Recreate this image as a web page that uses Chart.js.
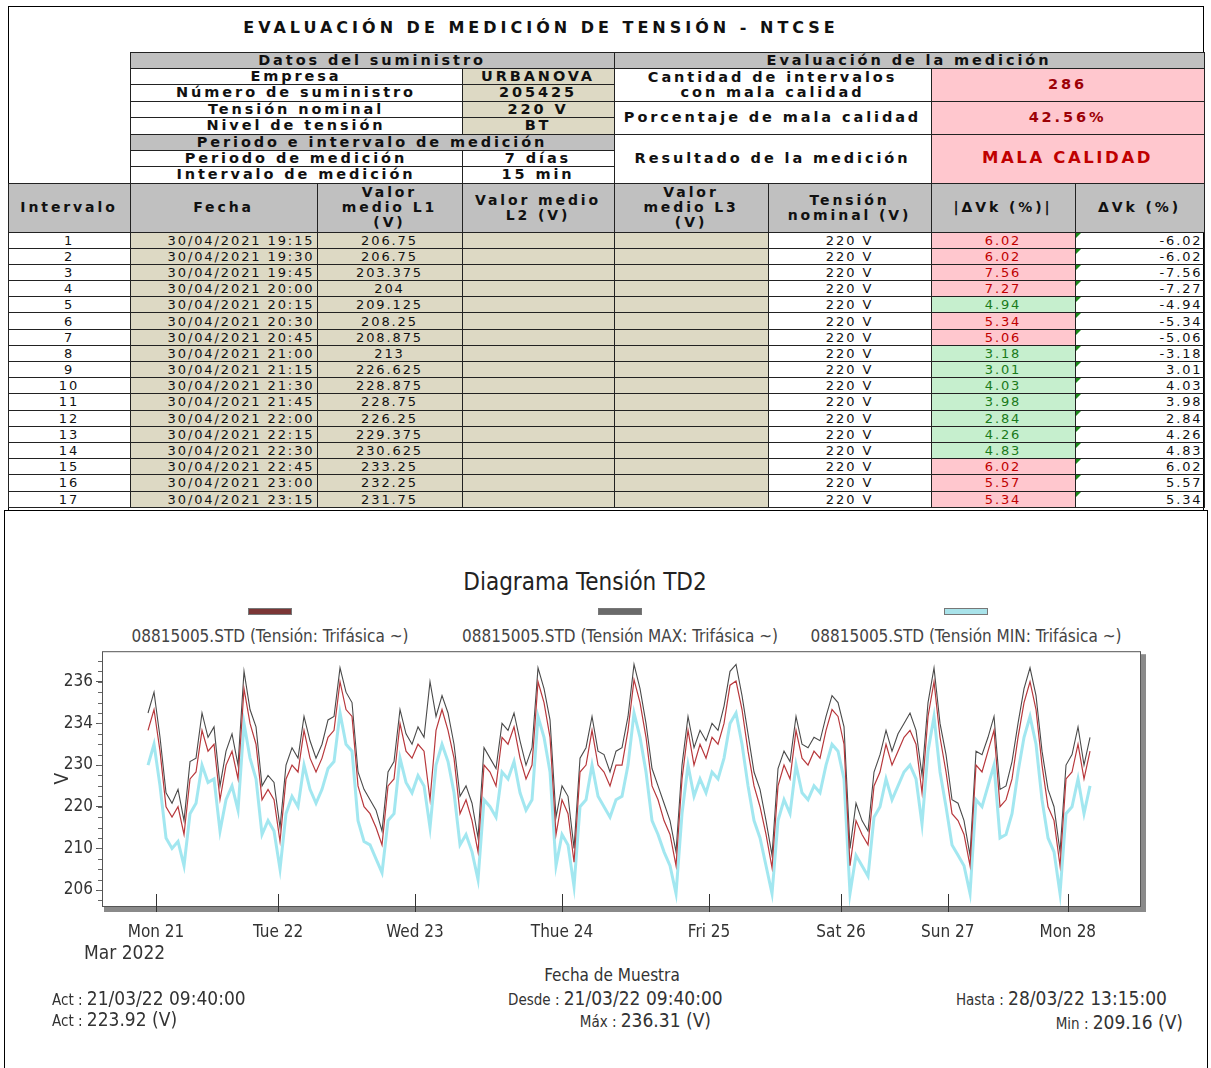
<!DOCTYPE html>
<html lang="es">
<head>
<meta charset="utf-8">
<title>Evaluación de medición de tensión - NTCSE</title>
<script src="https://cdn.jsdelivr.net/npm/chart.js@4.4.1/dist/chart.umd.min.js"></script>
<style>
body { margin:0; width:1211px; height:1068px; overflow:hidden; background:#fff; position:relative; font-family:"DejaVu Sans", sans-serif; color:#111; }
#hoja { position:absolute; left:8px; top:6px; width:1196px; height:506px; border:1.5px solid #000; box-sizing:border-box; }
#titulo { position:absolute; left:0; width:1064px; top:11px; text-align:center; font-weight:bold; font-size:16px; letter-spacing:4px; white-space:nowrap; }
#tabla { position:absolute; left:-1.5px; top:44.5px; border-collapse:collapse; table-layout:fixed; width:1196px; }
#tabla td { border:1.5px solid #222; padding:0; text-align:center; overflow:hidden; white-space:nowrap; line-height:1; }
.cab td { font-weight:bold; font-size:14.5px; letter-spacing:2.9px; }
.cab2 td { font-weight:bold; font-size:14px; letter-spacing:2.9px; line-height:15px !important; }
.gris { background:#c0c0c0; }
.beige { background:#ddd9c4; }
.rosa { background:#ffc7ce; color:#9c0006; }
.verde { background:#c6efce; color:#006100; }
#tabla td.vacio { border:none; }
.fila td { font-size:13px; letter-spacing:1.9px; height:15.2px; color:#111; }
#tabla .fila td.rosa { color:#c00000; }
#tabla .fila td.verde { color:#1a7a1a; }
td.fecha { text-align:right !important; padding-right:2px !important; }
td.dv { position:relative; text-align:right !important; padding-right:1px !important; }
td.dv::before { content:''; position:absolute; left:0; top:0; border-top:5px solid #1b8a1b; border-right:5px solid transparent; }
#graf { position:absolute; left:4px; top:510px; width:1204px; height:600px; border:1.5px solid #000; box-sizing:border-box; background:#fff; }
.txt { position:absolute; font-family:"Liberation Sans Narrow", "DejaVu Sans Condensed", sans-serif; color:#333; white-space:nowrap; }
#gtitulo { left:0; width:1170px; top:568px; text-align:center; font-size:24px; color:#222; }
.ley { position:absolute; top:608px; width:340px; text-align:center; font-family:"Liberation Sans Narrow", "DejaVu Sans Condensed", sans-serif; font-size:17px; color:#444; }
.ley span { display:block; margin:0 auto 11px auto; width:42px; height:5px; border:1px solid #777; }
#lienzo { position:absolute; left:0; top:638px; width:1211px; height:314px; }
.peq { font-size:15px; }
.gr { font-size:19px; }
</style>
</head>
<body>
<div id="hoja">
  <div id="titulo">EVALUACIÓN DE MEDICIÓN DE TENSIÓN - NTCSE</div>
  <table id="tabla">
    <colgroup>
      <col style="width:122px"><col style="width:187px"><col style="width:145px"><col style="width:152px">
      <col style="width:154px"><col style="width:163px"><col style="width:144px"><col style="width:129px">
    </colgroup>
    <tbody id="cuerpo">
      <tr class="cab" style="height:16px"><td class="vacio" rowspan="8"></td><td class="gris" colspan="3">Datos del suministro</td><td class="gris" colspan="4">Evaluación de la medición</td></tr>
      <tr class="cab" style="height:16px"><td colspan="2">Empresa</td><td class="beige">URBANOVA</td><td colspan="2" rowspan="2" style="line-height:15px">Cantidad de intervalos<br>con mala calidad</td><td class="rosa" colspan="2" rowspan="2">286</td></tr>
      <tr class="cab" style="height:17px"><td colspan="2">Número de suministro</td><td class="beige">205425</td></tr>
      <tr class="cab" style="height:16px"><td colspan="2">Tensión nominal</td><td class="beige">220 V</td><td colspan="2" rowspan="2">Porcentaje de mala calidad</td><td class="rosa" colspan="2" rowspan="2">42.56%</td></tr>
      <tr class="cab" style="height:17px"><td colspan="2">Nivel de tensión</td><td class="beige">BT</td></tr>
      <tr class="cab" style="height:16px"><td class="gris" colspan="3">Periodo e intervalo de medición</td><td colspan="2" rowspan="3">Resultado de la medición</td><td class="rosa" colspan="2" rowspan="3" style="font-size:16.5px;letter-spacing:2.6px;color:#c00000">MALA CALIDAD</td></tr>
      <tr class="cab" style="height:16px"><td colspan="2">Periodo de medición</td><td>7 días</td></tr>
      <tr class="cab" style="height:17px"><td colspan="2">Intervalo de medición</td><td>15 min</td></tr>
      <tr class="cab2 gris" style="height:49px">
        <td>Intervalo</td><td>Fecha</td><td>Valor<br>medio L1<br>(V)</td><td>Valor medio<br>L2 (V)</td>
        <td>Valor<br>medio L3<br>(V)</td><td>Tensión<br>nominal (V)</td><td>|ΔVk (%)|</td><td>ΔVk (%)</td>
      </tr>
    </tbody>
  </table>
</div>

<div id="graf"></div>
<div id="gtitulo" class="txt">Diagrama Tensión TD2</div>
<div id="leyenda"></div>
<div id="lienzo"><canvas id="grafico"></canvas></div>

<div class="txt gr" style="left:84px;top:941px">Mar 2022</div>
<div class="txt" style="left:0;width:1224px;top:965px;text-align:center;font-size:17px">Fecha de Muestra</div>
<div class="txt" style="left:52px;top:987px"><span class="peq">Act : </span><span class="gr">21/03/22 09:40:00</span></div>
<div class="txt" style="left:52px;top:1008px"><span class="peq">Act : </span><span class="gr">223.92 (V)</span></div>
<div class="txt" style="left:508px;top:987px"><span class="peq">Desde : </span><span class="gr">21/03/22 09:40:00</span></div>
<div class="txt" style="right:500px;top:1009px"><span class="peq">Máx : </span><span class="gr">236.31 (V)</span></div>
<div class="txt" style="right:44px;top:987px"><span class="peq">Hasta : </span><span class="gr">28/03/22 13:15:00</span></div>
<div class="txt" style="right:28px;top:1011px"><span class="peq">Min : </span><span class="gr">209.16 (V)</span></div>

<script>
// tabla de intervalos
const intervalos = [1, 2, 3, 4, 5, 6, 7, 8, 9, 10, 11, 12, 13, 14, 15, 16, 17];
const fechas = ['30/04/2021 19:15', '30/04/2021 19:30', '30/04/2021 19:45', '30/04/2021 20:00', '30/04/2021 20:15',
    '30/04/2021 20:30', '30/04/2021 20:45', '30/04/2021 21:00', '30/04/2021 21:15', '30/04/2021 21:30',
    '30/04/2021 21:45', '30/04/2021 22:00', '30/04/2021 22:15', '30/04/2021 22:30', '30/04/2021 22:45',
    '30/04/2021 23:00', '30/04/2021 23:15'];
const medioL1 = ['206.75', '206.75', '203.375', '204', '209.125', '208.25', '208.875', '213', '226.625',
    '228.875', '228.75', '226.25', '229.375', '230.625', '233.25', '232.25', '231.75'];
const tensionNominal = '220 V';
const desvAbs = ['6.02', '6.02', '7.56', '7.27', '4.94', '5.34', '5.06', '3.18', '3.01', '4.03', '3.98',
    '2.84', '4.26', '4.83', '6.02', '5.57', '5.34'];
const desv = ['-6.02', '-6.02', '-7.56', '-7.27', '-4.94', '-5.34', '-5.06', '-3.18', '3.01', '4.03', '3.98',
    '2.84', '4.26', '4.83', '6.02', '5.57', '5.34'];

// diagrama (una muestra cada ~1 h)
const serieNombres = ['08815005.STD (Tensión: Trifásica ~)', '08815005.STD (Tensión MAX: Trifásica ~)', '08815005.STD (Tensión MIN: Trifásica ~)'];
const tension = [
    229, 232, 226, 218, 216.5, 218, 214, 222, 223, 229,
    226, 227, 219, 224, 226, 222, 235, 230, 227, 219,
    220.5, 219, 213, 222, 224, 223, 229, 225, 223, 225,
    228, 229, 236, 232, 231, 221, 218, 217, 215, 212.5,
    221, 222, 230, 226, 225, 227, 226, 219, 229, 232,
    229, 225, 217, 219, 216, 211.5, 224, 223, 221, 228,
    227, 229.5, 225, 222, 224, 236, 233, 228, 214, 219,
    217, 210, 223, 224, 229, 224, 223, 221, 224, 224,
    229, 236.3, 233, 228, 221, 219, 216, 214, 209.5, 222,
    229, 224, 227, 225, 228, 227, 230, 235.5, 236.1, 232,
    226, 221, 218, 214, 209.2, 221, 224, 222, 229, 225,
    224, 226, 225, 229, 232, 231, 227, 209.5, 216, 214,
    212.5, 221, 223, 227, 224, 226, 228, 229, 227, 220,
    231, 236, 228, 223, 217, 216, 214, 209.5, 224, 223,
    226, 229, 218, 219, 222, 228, 233, 236, 232, 224,
    218, 216, 209.5, 222, 223, 227, 222, 226
];
const tensionMax = [
    231.5, 234.5, 228, 220, 218.5, 220.5, 216, 224.5, 225, 231.5,
    228, 229.5, 221, 226, 228.5, 224, 237.5, 232, 229.5, 221,
    222.5, 221.5, 215, 224, 226.5, 225, 231, 227.5, 225, 227,
    230.5, 231, 238, 234.5, 233, 223, 220.5, 219, 217.5, 214.5,
    223, 224.5, 232, 228.5, 227, 229.5, 228, 236, 231, 234,
    231.5, 227, 219.5, 221, 218.5, 213.5, 226.5, 225, 223.5, 230,
    229, 231.5, 227.5, 224, 226.5, 238, 235, 230.5, 216.5, 221,
    219.5, 212, 225, 226.5, 231, 226, 225.5, 223, 226, 226.5,
    231, 238.5, 235, 230, 223.5, 221, 218.5, 216, 211.5, 224,
    231, 226.5, 229, 227.5, 230, 229, 232.5, 237.5, 238.5, 234,
    228.5, 223, 220.5, 216, 211, 223.5, 226, 224.5, 231, 227,
    226.5, 228, 227.5, 231, 234, 233, 229.5, 212, 218.5, 216,
    214.5, 223, 225.5, 229, 226, 228.5, 230, 231.5, 229, 222.5,
    233, 238, 230, 225.5, 219, 218.5, 216, 211, 226, 225.5,
    228, 231, 220.5, 221, 224.5, 230, 235, 238, 234, 226,
    220.5, 218, 211.5, 224, 225.5, 229.5, 224, 228
];
const tensionMin = [
    224, 227, 221, 213.5, 212, 213, 209.5, 217, 218.5, 224,
    221.5, 222, 214.5, 219, 221, 217.5, 230, 225, 222, 214,
    216, 214.5, 209, 217, 219.5, 218, 224, 220.5, 218.5, 220.5,
    223.5, 224.5, 231.5, 227, 226, 216, 213, 212.5, 210.5, 208.5,
    216, 217, 225, 221.5, 220, 222.5, 221, 215, 224, 227,
    224.5, 220, 212.5, 214, 211.5, 207.5, 219, 218, 216.5, 223,
    222, 224.5, 220, 217.5, 219, 231, 228, 223, 209.5, 214,
    212.5, 206.5, 218, 219, 224, 219.5, 218, 216.5, 219, 219.5,
    224, 231.5, 228, 223, 216, 214, 211.5, 209.5, 205.5, 217,
    224, 219.5, 222, 220, 223, 222, 225, 230, 231.5, 227,
    221, 216, 213.5, 209.5, 205.5, 216, 219, 217, 224, 220,
    219, 221, 220, 224, 227, 226, 222, 205.5, 211, 209.5,
    208, 216.5, 218, 222, 219, 221, 223, 224, 222, 215.5,
    226, 231, 223, 218, 212.5, 211, 209.5, 205.5, 219, 218,
    221, 224, 213.5, 214, 217, 223, 228, 231, 227, 219,
    213.5, 211.5, 205.5, 217, 218, 222, 217, 221
];
// marcas del eje x (posición en muestras) y del eje y
const xTickPos = [1.33, 21.67, 44.5, 69, 93.5, 115.5, 133.3, 153.3];
const xTickLabels = ['Mon 21', 'Tue 22', 'Wed 23', 'Thue 24', 'Fri 25', 'Sat 26', 'Sun 27', 'Mon 28'];
const yTickVals = [206, 212, 218, 224, 230, 236];
const yTickLabels = ['206', '210', '220', '230', '234', '236'];

// construir filas de la tabla
const cuerpo = document.getElementById('cuerpo');
intervalos.forEach((n, i) => {
    const fila = document.createElement('tr');
    fila.className = 'fila';
    const clase = Number(desvAbs[i]) > 5 ? 'rosa' : 'verde';
    fila.innerHTML = `
        <td>${n}</td>
        <td class="beige fecha">${fechas[i]}</td>
        <td class="beige">${medioL1[i]}</td>
        <td class="beige"></td>
        <td class="beige"></td>
        <td>${tensionNominal}</td>
        <td class="${clase}">${desvAbs[i]}</td>
        <td class="dv">${desv[i]}</td>`;
    cuerpo.appendChild(fila);
});

// leyenda (muestra arriba del texto)
const colores = ['#b8383c', '#4a4a4a', 'rgba(70, 208, 226, 0.5)'];
const muestras = ['#7b3636', '#6a6a6a', '#a9e3ea'];
const leyX = [270, 620, 966];
const leyenda = document.getElementById('leyenda');
serieNombres.forEach((nombre, i) => {
    const d = document.createElement('div');
    d.className = 'ley';
    d.style.left = (leyX[i] - 170) + 'px';
    d.innerHTML = `<span style="background:${muestras[i]}"></span>${nombre}`;
    leyenda.appendChild(d);
});

const aPuntos = arr => arr.map((v, i) => ({ x: i, y: v }));

// marco con sombra, marcas menores y marcas de días
const marco = {
    id: 'marco',
    afterDraw(chart) {
        const { ctx, chartArea: a, scales } = chart;
        ctx.save();
        ctx.fillStyle = '#8a8a8a';
        ctx.fillRect(a.left + 2, a.bottom, a.right - a.left + 4, 6);
        ctx.fillRect(a.right, a.top + 3, 6, a.bottom - a.top + 3);
        ctx.strokeStyle = '#555';
        ctx.lineWidth = 1;
        ctx.strokeRect(a.left + 0.5, a.top + 0.5, a.right - a.left, a.bottom - a.top);
        ctx.strokeStyle = '#666';
        ctx.beginPath();
        for (let v = 204.5; v < scales.y.max; v += 1.5) {
            const py = Math.round(scales.y.getPixelForValue(v)) + 0.5;
            ctx.moveTo(a.left - 4, py);
            ctx.lineTo(a.left, py);
        }
        ctx.stroke();
        ctx.strokeStyle = '#333';
        ctx.beginPath();
        xTickPos.forEach(v => {
            const px = Math.round(scales.x.getPixelForValue(v)) + 0.5;
            ctx.moveTo(px, a.bottom - 12);
            ctx.lineTo(px, a.bottom + 6);
        });
        ctx.stroke();
        ctx.restore();
    }
};

const fuente = { family: '"Liberation Sans Narrow", "DejaVu Sans Condensed", sans-serif', size: 17 };

new Chart(document.getElementById('grafico'), {
    type: 'line',
    data: {
        datasets: [{
            label: serieNombres[0],
            data: aPuntos(tension),
            borderColor: colores[0],
            borderWidth: 1.2,
            order: 0
        }, {
            label: serieNombres[1],
            data: aPuntos(tensionMax),
            borderColor: colores[1],
            borderWidth: 1.1,
            order: 1
        }, {
            label: serieNombres[2],
            data: aPuntos(tensionMin),
            borderColor: colores[2],
            borderWidth: 3,
            order: 2
        }]
    },
    options: {
        responsive: true,
        maintainAspectRatio: false,
        animation: false,
        elements: { point: { radius: 0 }, line: { tension: 0 } },
        layout: { padding: { left: 52, right: 71, top: 0, bottom: 0 } },
        plugins: { legend: { display: false }, tooltip: { enabled: false } },
        scales: {
            x: {
                type: 'linear',
                min: -7.67,
                max: 165.33,
                afterBuildTicks: s => { s.ticks = xTickPos.map(v => ({ value: v })); },
                afterFit: s => { s.height = 46; },
                grid: { display: false },
                border: { display: false },
                ticks: {
                    autoSkip: false,
                    maxRotation: 0,
                    padding: 8,
                    color: '#333',
                    font: fuente,
                    callback: (v, i) => xTickLabels[i]
                }
            },
            y: {
                min: 203.7,
                max: 240.4,
                afterBuildTicks: s => { s.ticks = yTickVals.map(v => ({ value: v })); },
                afterFit: s => { s.width = 50; },
                grid: { drawOnChartArea: false, drawTicks: true, tickLength: 6, color: '#555' },
                border: { display: false },
                title: { display: true, text: 'V', color: '#333', font: { ...fuente, size: 19 }, padding: 0 },
                ticks: {
                    padding: 3,
                    color: '#333',
                    font: fuente,
                    callback: (v, i) => yTickLabels[i]
                }
            }
        }
    },
    plugins: [marco]
});
</script>
</body>
</html>
